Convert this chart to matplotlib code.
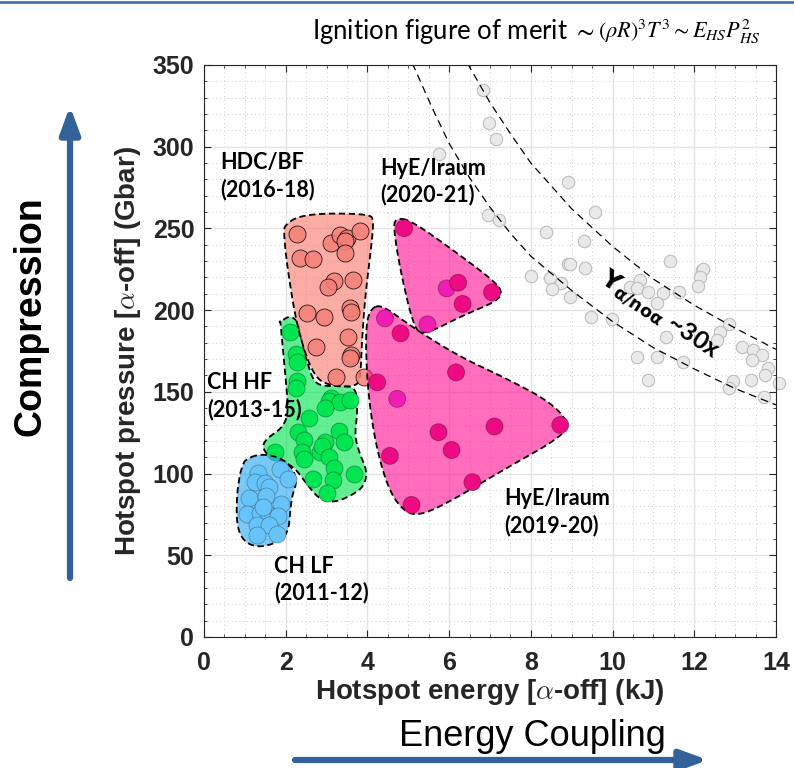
import numpy as np
import matplotlib
matplotlib.use("Agg")
import matplotlib.pyplot as plt
from matplotlib.lines import Line2D
from matplotlib.patches import ArrowStyle
from matplotlib.ticker import MultipleLocator

# ---- data ----
# NIF shots with alpha heating (grey background)
bg_E = [6.82, 6.98, 7.15, 5.76, 8.92, 9.58, 6.96, 7.23, 8.38, 9.30, 11.40, 8.90, 8.97,
        9.32, 8.01, 8.48, 8.73, 8.52, 8.97, 12.18, 12.22, 12.14, 12.09, 10.67, 10.42,
        10.61, 10.87, 11.24, 11.63, 11.08, 9.48, 9.99, 11.32, 12.84, 12.63, 12.55, 13.18,
        13.43, 13.66, 13.41, 10.59, 11.08, 11.73, 13.80, 13.72, 14.07, 13.39, 12.94,
        12.84, 10.87, 13.70]
bg_P = [334.7, 314.8, 304.6, 295.6, 278.6, 260.1, 258.3, 255.2, 248.0, 242.5, 230.1, 228.5,
        228.2, 225.6, 220.9, 219.5, 216.8, 212.7, 208.3, 224.6, 225.0, 220.5, 214.8, 218.5,
        214.4, 213.4, 211.3, 210.7, 211.3, 204.6, 196.0, 194.4, 183.4, 191.4, 186.9, 181.8,
        177.3, 175.6, 172.6, 169.5, 171.6, 171.6, 168.5, 164.4, 160.3, 155.7, 157.3, 156.9,
        152.2, 157.3, 147.1]

# dashed guide curves
lower_E = [5.1, 5.6, 6.0, 6.5, 7.0, 7.5, 8.0, 9.0, 10.0, 11.0, 12.0, 13.0, 14.0]
lower_P = [351, 323, 302, 281, 263, 247, 233, 212, 193, 177, 164, 152, 142]
upper_E = [6.45, 7.0, 7.5, 8.0, 9.0, 10.0, 11.0, 12.0, 13.0, 14.0]
upper_P = [351, 327, 308, 290, 262, 239, 219, 203, 189, 176]

# CH LF (2011-12)
lf_E = [1.33, 1.87, 1.25, 1.50, 2.05, 1.58, 1.10, 1.52, 1.88, 1.05, 1.38, 1.60, 1.82,
        1.30, 1.58, 1.79, 1.30, 1.45]
lf_P = [100.5, 102.5, 95.0, 94.0, 96.8, 92.0, 84.9, 86.0, 81.5, 75.5, 75.7, 74.7, 74.0,
        68.5, 68.5, 63.0, 62.5, 79.5]
lf_outE = [1.01, 1.33, 1.82, 2.15, 2.28, 2.15, 2.11, 2.07, 1.91, 1.50, 1.17, 0.92, 0.80,
           0.80, 0.88, 0.97]
lf_outP = [108.3, 112.0, 110.4, 104.3, 95.0, 85.9, 75.7, 65.5, 59.4, 55.3, 55.7, 60.3,
           69.6, 85.9, 100.2, 106.3]

# CH HF (2013-15)
hf_E = [2.11, 2.25, 2.28, 2.28, 2.25, 3.12, 3.05, 3.34, 3.57, 2.96, 2.56, 2.30, 3.30,
        2.44, 3.42, 2.97, 2.85, 2.90, 2.40, 1.73, 2.46, 3.05, 3.18, 2.66, 3.16, 3.67, 3.01]
hf_P = [186.4, 173.0, 168.1, 156.7, 152.6, 146.5, 144.5, 143.6, 145.0, 140.4, 133.8,
        125.3, 126.1, 120.6, 119.6, 119.6, 113.4, 117.0, 113.4, 113.4, 108.8, 110.4,
        103.6, 96.7, 96.1, 99.6, 87.9]
hf_outE = [1.84, 2.07, 2.28, 2.36, 2.52, 2.69, 2.97, 3.54, 3.75, 3.75, 3.69, 3.79, 4.00,
           3.91, 3.63, 3.22, 2.85, 2.56, 2.24, 1.90, 1.58, 1.42, 1.54, 1.91, 2.07, 2.01,
           1.91, 1.87]
hf_outP = [192.0, 196.5, 194.0, 184.8, 168.5, 155.8, 153.2, 154.2, 150.1, 135.9, 123.6,
           113.4, 101.2, 92.0, 86.9, 82.4, 83.8, 92.0, 103.2, 108.0, 110.4, 116.5, 121.6,
           127.7, 136.9, 155.2, 181.8, 194.0]

# HDC/BF (2016-18)
hdc_E = [2.28, 3.10, 3.32, 3.51, 3.83, 3.46, 3.44, 2.36, 2.67, 3.19, 3.03, 3.65, 3.57,
         3.61, 2.52, 2.94, 3.52, 2.75, 3.59, 3.57, 3.23, 3.91]
hdc_P = [246.4, 240.9, 246.0, 244.0, 248.5, 242.3, 234.8, 232.1, 231.2, 217.9, 214.4,
         218.5, 201.5, 199.1, 198.1, 195.7, 183.4, 177.7, 172.6, 170.9, 159.3, 158.9]
hdc_outE = [1.99, 2.28, 2.93, 4.04, 4.16, 4.08, 3.95, 3.87, 3.83, 3.71, 3.18, 2.69, 2.28,
            2.03, 1.95]
hdc_outP = [252.1, 257.2, 259.3, 258.7, 255.2, 235.8, 209.3, 182.8, 158.3, 153.2, 153.2,
            158.3, 188.9, 227.7, 248.1]

# HyE/Iraum (2020-21)
h21_E = [4.90, 5.94, 6.22, 6.33, 7.05, 5.47]
h21_P = [250.1, 213.3, 216.8, 203.8, 210.9, 191.3]
h21_light = [False, True, False, False, False, True]
h21_outE = [4.69, 5.06, 6.37, 7.11, 7.31, 7.15, 6.37, 5.39, 5.14, 4.81, 4.64]
h21_outP = [256.2, 255.2, 231.7, 217.5, 210.9, 205.2, 197.1, 184.8, 188.9, 223.6, 250.1]

# HyE/Iraum (2019-20)
h20_E = [4.43, 4.81, 6.17, 4.24, 4.73, 5.74, 7.11, 8.72, 6.06, 4.55, 6.57, 5.08]
h20_P = [195.0, 185.8, 161.9, 155.8, 145.7, 125.3, 128.8, 129.7, 114.4, 110.8, 94.7, 80.8]
h20_light = [True, False, False, False, True, False, False, False, False, False, False, False]
h20_outE = [4.08, 4.36, 5.02, 6.17, 7.39, 8.46, 8.95, 8.70, 7.39, 6.17, 5.35, 4.94, 4.53,
            4.20, 4.00, 3.95]
h20_outP = [201.2, 203.2, 190.9, 172.6, 158.3, 144.1, 130.8, 121.6, 103.2, 84.9, 74.7,
            75.7, 89.0, 117.5, 152.2, 188.9]


def chaikin(xs, ys, n=3):
    pts = np.column_stack([xs, ys]).astype(float)
    for _ in range(n):
        nxt = np.roll(pts, -1, axis=0)
        out = np.empty((2 * len(pts), 2))
        out[0::2] = 0.75 * pts + 0.25 * nxt
        out[1::2] = 0.25 * pts + 0.75 * nxt
        pts = out
    pts = np.vstack([pts, pts[:1]])
    return pts[:, 0], pts[:, 1]


def region(ax, oe, op, fill, z):
    x, y = chaikin(oe, op)
    ax.fill(x, y, facecolor=fill, alpha=0.62, edgecolor="none", zorder=z)
    ax.plot(x, y, color="black", lw=1.3, dashes=(3.5, 2), zorder=z + 0.2)


fig = plt.figure(figsize=(7.94, 7.68), dpi=100)
ax = fig.add_axes([0.2569, 0.1706, 0.7204, 0.7448])

ax.set_xlim(0, 14)
ax.set_ylim(0, 350)
ax.xaxis.set_major_locator(MultipleLocator(2))
ax.xaxis.set_minor_locator(MultipleLocator(0.5))
ax.yaxis.set_major_locator(MultipleLocator(50))
ax.yaxis.set_minor_locator(MultipleLocator(10))
ax.grid(which="major", color="#e3e3e3", lw=1.0, zorder=0)
ax.grid(which="minor", color="#cfcfcf", lw=0.7, ls=(0, (1, 3)), zorder=0)
ax.set_axisbelow(True)
ax.tick_params(which="both", direction="in", top=True, right=True, color="#262626")
ax.tick_params(which="major", length=5, labelsize=18, labelcolor="#262626")
ax.tick_params(axis="y", which="major", pad=7)
ax.tick_params(axis="x", which="major", pad=10)
ax.tick_params(which="minor", length=2.5)
for lab in ax.get_xticklabels() + ax.get_yticklabels():
    lab.set_fontweight("bold")
    lab.set_family("Liberation Sans")
for sp in ax.spines.values():
    sp.set_color("#262626")
    sp.set_linewidth(0.8)

# background shots and guide curves
ax.scatter(bg_E, bg_P, s=80, facecolor="#e9e9e9", edgecolor="#bdbdbd", lw=0.8,
           zorder=2, clip_on=False)
ax.plot(lower_E, lower_P, color="black", lw=0.9, dashes=(6, 4), zorder=2.5)
ax.plot(upper_E, upper_P, color="black", lw=0.9, dashes=(6, 4), zorder=2.5)

# campaign regions
region(ax, hf_outE, hf_outP, "#00e650", 3)
ax.scatter(hf_E, hf_P, s=150, color="#00e650", edgecolor=(0, 0, 0, 0.35), lw=0.6, zorder=3.5)
region(ax, lf_outE, lf_outP, "#2aa8f2", 4)
ax.scatter(lf_E, lf_P, s=150, color="#66c4fa", edgecolor=(0, 0, 0, 0.3), lw=0.6, zorder=4.5)
region(ax, hdc_outE, hdc_outP, "#fa7a6e", 5)
ax.scatter(hdc_E, hdc_P, s=150, color="#f58078", alpha=0.85, edgecolor=(0, 0, 0, 0.3),
           lw=0.6, zorder=5.5)
region(ax, h21_outE, h21_outP, "#ff1493", 6)
ax.scatter(h21_E, h21_P, s=150, edgecolor=(0, 0, 0, 0.35), lw=0.6, zorder=6.5,
           color=["#f01cb4" if l else "#ee0a82" for l in h21_light])
region(ax, h20_outE, h20_outP, "#ff1493", 7)
ax.scatter(h20_E, h20_P, s=150, edgecolor=(0, 0, 0, 0.35), lw=0.6, zorder=7.5,
           color=["#f01cb4" if l else "#ee0a82" for l in h20_light])

# labels
lab_kw = dict(fontsize=15.5, fontweight="bold", family="Lato", color="black",
              va="center", ha="left", linespacing=1.3, zorder=10)
ax.text(0.39, 282, "HDC/BF\n(2016-18)", **lab_kw)
ax.text(4.32, 278.5, "HyE/Iraum\n(2020-21)", **lab_kw)
ax.text(0.07, 147.5, "CH HF\n(2013-15)", **lab_kw)
ax.text(1.72, 35, "CH LF\n(2011-12)", **lab_kw)
ax.text(7.34, 76.5, "HyE/Iraum\n(2019-20)", **lab_kw)
ax.text(11.15, 196.4, r"$\mathbf{Y}_{\mathbf{\alpha/no\alpha}}$ ~30x", fontsize=18,
        fontweight="bold", family="Lato", rotation=-34, rotation_mode="anchor",
        ha="center", va="center", math_fontfamily="dejavusans", zorder=10)

ax.set_xlabel(r"Hotspot energy [$\alpha$-off] (kJ)", fontsize=20, fontweight="bold",
              family="Liberation Sans", color="#262626", math_fontfamily="cm", va="center")
ax.set_ylabel(r"Hotspot pressure [$\alpha$-off] (Gbar)", fontsize=20, fontweight="bold",
              family="Liberation Sans", color="#262626", math_fontfamily="cm", va="center")
ax.xaxis.set_label_coords(0.5, -0.096)
ax.yaxis.set_label_coords(-0.133, 0.5)

fig.text(312 / 794, 1 - 32 / 768, r"Ignition figure of merit $\sim$", fontsize=18.5,
         family="Lato", math_fontfamily="stix", ha="left", va="center")
fig.text(760 / 794, 1 - 32 / 768, r"$(\rho R)^3T^3{\sim}E_{HS}P_{HS}^2$", fontsize=16,
         math_fontfamily="stix", ha="right", va="center")
fig.add_artist(Line2D([0, 1], [0.998, 0.998], transform=fig.transFigure,
                      color="#4a6fa5", lw=2))

# side arrows
arrow_c = "#33619a"
astyle = ArrowStyle("-|>", head_length=0.9, head_width=0.33)
ax.annotate("", xy=(70, 662), xytext=(70, 190), xycoords="figure pixels",
            textcoords="figure pixels", annotation_clip=False,
            arrowprops=dict(arrowstyle=astyle, color=arrow_c, lw=4.5, mutation_scale=18,
                            shrinkA=0, shrinkB=0))
ax.annotate("", xy=(708, 8), xytext=(295, 8), xycoords="figure pixels",
            textcoords="figure pixels", annotation_clip=False,
            arrowprops=dict(arrowstyle=astyle, color=arrow_c, lw=4.5, mutation_scale=18,
                            shrinkA=0, shrinkB=0))
fig.text(30 / 794, 1 - 316 / 768, "Compression", rotation=90, fontsize=27,
         fontweight="bold", family="Liberation Sans", ha="center", va="center")
fig.text(532 / 794, 1 - 737 / 768, "Energy Coupling", fontsize=26,
         family="Liberation Sans", ha="center", va="center")

fig.savefig("out.png", dpi=100)
plt.close(fig)
